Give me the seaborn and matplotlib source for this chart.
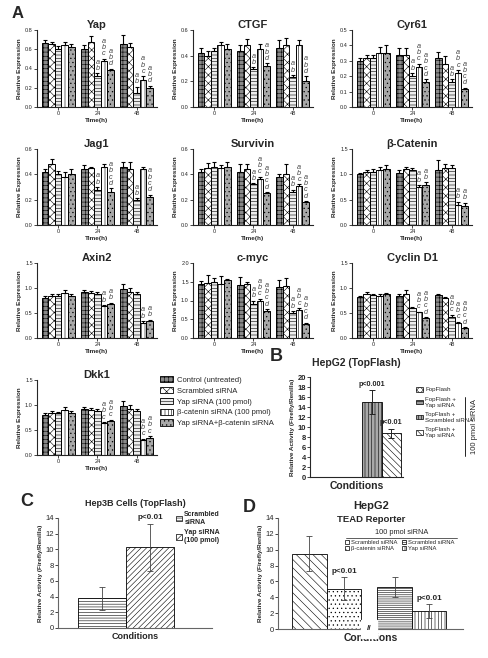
import matplotlib
matplotlib.use("Agg")
import matplotlib.pyplot as plt
from matplotlib.patches import Patch
from matplotlib.lines import Line2D
import numpy as np
import pandas as pd
import seaborn as sns

sns.set_style("ticks")
plt.rcParams["font.family"] = ["Liberation Sans", "DejaVu Sans"]
plt.rcParams["hatch.linewidth"] = 0.4
plt.rcParams["axes.linewidth"] = 0.8

W, H = 488, 658

# ---------------- Panel A data ----------------
times = ["0", "24", "48"]
conditions = ["Control (untreated)", "Scrambled siRNA", "Yap siRNA (100 pmol)",
              "β-catenin siRNA (100 pmol)", "Yap siRNA+β-catenin siRNA"]

yap_mean = [[0.66, 0.65, 0.60, 0.64, 0.62], [0.60, 0.68, 0.32, 0.48, 0.38], [0.65, 0.62, 0.15, 0.28, 0.20]]
yap_err = [[0.04, 0.03, 0.03, 0.04, 0.03], [0.04, 0.06, 0.03, 0.02, 0.02], [0.10, 0.04, 0.06, 0.04, 0.02]]
yap_notes = {(1, 2): "ab", (1, 3): "abc", (1, 4): "abd", (2, 2): "ab", (2, 3): "abc", (2, 4): "abd"}

ctgf_mean = [[0.42, 0.40, 0.44, 0.48, 0.45], [0.44, 0.48, 0.30, 0.45, 0.32], [0.46, 0.48, 0.23, 0.48, 0.20]]
ctgf_err = [[0.04, 0.04, 0.02, 0.03, 0.04], [0.04, 0.05, 0.01, 0.04, 0.02], [0.06, 0.06, 0.02, 0.04, 0.04]]
ctgf_notes = {(1, 2): "ab", (1, 4): "abd", (2, 2): "ab", (2, 4): "abd"}

cyr61_mean = [[0.30, 0.32, 0.32, 0.35, 0.35], [0.34, 0.34, 0.20, 0.26, 0.16], [0.32, 0.28, 0.16, 0.22, 0.12]]
cyr61_err = [[0.02, 0.02, 0.02, 0.04, 0.05], [0.04, 0.04, 0.02, 0.02, 0.02], [0.04, 0.05, 0.02, 0.02, 0.005]]
cyr61_notes = {(1, 2): "ab", (1, 3): "abc", (1, 4): "abcd", (2, 2): "ab", (2, 3): "abc", (2, 4): "abcd"}

jag1_mean = [[0.42, 0.48, 0.40, 0.38, 0.40], [0.44, 0.45, 0.28, 0.46, 0.26], [0.46, 0.44, 0.20, 0.44, 0.22]]
jag1_err = [[0.02, 0.04, 0.03, 0.04, 0.04], [0.03, 0.01, 0.02, 0.02, 0.03], [0.04, 0.06, 0.01, 0.02, 0.02]]
jag1_notes = {(1, 2): "ab", (1, 4): "abcd", (2, 2): "ab", (2, 4): "abcd"}

survivin_mean = [[0.42, 0.45, 0.46, 0.45, 0.46], [0.42, 0.44, 0.32, 0.36, 0.25], [0.38, 0.40, 0.26, 0.31, 0.18]]
survivin_err = [[0.02, 0.04, 0.04, 0.02, 0.04], [0.06, 0.04, 0.01, 0.02, 0.01], [0.02, 0.08, 0.02, 0.01, 0.01]]
survivin_notes = {(1, 2): "ab", (1, 3): "abc", (1, 4): "abcd", (2, 2): "ab", (2, 3): "abc", (2, 4): "abcd"}

bcat_mean = [[1.00, 1.05, 1.05, 1.08, 1.10], [1.03, 1.10, 1.08, 0.75, 0.78], [1.08, 1.12, 1.12, 0.40, 0.37]]
bcat_err = [[0.03, 0.04, 0.05, 0.06, 0.08], [0.05, 0.05, 0.04, 0.04, 0.06], [0.20, 0.08, 0.06, 0.06, 0.07]]
bcat_notes = {(1, 3): "ab", (1, 4): "ab", (2, 3): "ab", (2, 4): "ab"}

axin2_mean = [[0.80, 0.85, 0.85, 0.90, 0.84], [0.92, 0.90, 0.88, 0.64, 0.68], [0.98, 0.92, 0.88, 0.31, 0.35]]
axin2_err = [[0.05, 0.04, 0.03, 0.06, 0.04], [0.05, 0.05, 0.04, 0.02, 0.03], [0.10, 0.08, 0.05, 0.03, 0.02]]
axin2_notes = {(1, 3): "ab", (1, 4): "ab", (2, 3): "ab", (2, 4): "ab"}

cmyc_mean = [[1.43, 1.47, 1.50, 1.45, 1.55], [1.42, 1.43, 0.92, 1.00, 0.72], [1.35, 1.40, 0.66, 0.75, 0.37]]
cmyc_err = [[0.10, 0.22, 0.10, 0.20, 0.02], [0.20, 0.07, 0.07, 0.05, 0.05], [0.20, 0.20, 0.06, 0.05, 0.04]]
cmyc_notes = {(1, 2): "ab", (1, 3): "abc", (1, 4): "abcd", (2, 2): "ab", (2, 3): "abc", (2, 4): "abcd"}

cycd1_mean = [[0.82, 0.88, 0.87, 0.85, 0.88], [0.84, 0.88, 0.60, 0.52, 0.40], [0.86, 0.80, 0.43, 0.31, 0.20]]
cycd1_err = [[0.02, 0.05, 0.02, 0.03, 0.03], [0.04, 0.08, 0.02, 0.01, 0.02], [0.03, 0.03, 0.04, 0.02, 0.02]]
cycd1_notes = {(1, 3): "abc", (1, 4): "abcd", (2, 2): "abc", (2, 3): "abc", (2, 4): "abcd"}

dkk1_mean = [[0.80, 0.85, 0.84, 0.90, 0.84], [0.92, 0.90, 0.88, 0.64, 0.68], [0.98, 0.92, 0.88, 0.30, 0.35]]
dkk1_err = [[0.05, 0.04, 0.03, 0.06, 0.04], [0.05, 0.05, 0.04, 0.02, 0.03], [0.10, 0.08, 0.05, 0.03, 0.03]]
dkk1_notes = {(1, 3): "abc", (1, 4): "abc", (2, 3): "abc", (2, 4): "abc"}

gene_names = ["Yap", "CTGF", "Cyr61", "Jag1", "Survivin", "β-Catenin", "Axin2", "c-myc", "Cyclin D1", "Dkk1"]
gene_ymax = [0.8, 0.6, 0.5, 0.6, 0.6, 1.5, 1.5, 2.0, 1.5, 1.5]
gene_ystep = [0.2, 0.2, 0.1, 0.2, 0.2, 0.5, 0.5, 0.5, 0.5, 0.5]

# ---------------- Panel B data ----------------
b_conditions = ["FopFlash", "FopFlash +\nYap siRNA", "TopFlash +\nScrambled siRNA", "TopFlash +\nYap siRNA"]
b_values = [0.05, 0.05, 15.0, 8.8]
b_errors = [0.0, 0.0, 2.4, 0.9]
b_pvalues = ["", "", "p<0.001", "p<0.01"]

# ---------------- Panel C data ----------------
c_conditions = ["Scrambled\nsiRNA", "Yap siRNA\n(100 pmol)"]
c_values = [3.8, 10.3]
c_errors = [1.45, 3.0]
c_pvalues = ["", "p<0.01"]

# ---------------- Panel D data ----------------
d_sets = ["β-catenin set", "Yap set"]
d_roles = ["Scrambled", "Knockdown"]
d_labels = [["Scrambled siRNA", "β-catenin siRNA"], ["Scrambled siRNA", "Yap siRNA"]]
d_values = [[9.5, 5.1], [5.3, 2.3]]
d_errors = [[2.2, 1.5], [1.3, 0.9]]
d_pvalues = [["", "p<0.01"], ["", "p<0.01"]]

# ---------------- styles ----------------
a_faces = ["#8a8a8a", "#ffffff", "#ececec", "#ffffff", "#a8a8a8"]
a_hatches = ["++++", "xxxx", "-----", "|||||", "...."]
b_faces = ["#ffffff", "#9a9a9a", "#a8a8a8", "#ffffff"]
b_hatches = ["xxxxx", "-----", "|||||", "\\\\\\\\\\"]
c_hatches = ["------", "//////"]
d_hatches = [["\\\\\\\\", "...."], ["--------", "|||||"]]


def fig_rect(left, top, width, height):
    return [left / W, 1 - (top + height) / H, width / W, height / H]


fig = plt.figure(figsize=(W / 100, H / 100), dpi=100)

col_left = [37, 193, 352]
row_top = [30, 149, 263, 380]
row_h = [77, 76, 75, 75]

gene_data = {
    "Yap": (yap_mean, yap_err, yap_notes),
    "CTGF": (ctgf_mean, ctgf_err, ctgf_notes),
    "Cyr61": (cyr61_mean, cyr61_err, cyr61_notes),
    "Jag1": (jag1_mean, jag1_err, jag1_notes),
    "Survivin": (survivin_mean, survivin_err, survivin_notes),
    "β-Catenin": (bcat_mean, bcat_err, bcat_notes),
    "Axin2": (axin2_mean, axin2_err, axin2_notes),
    "c-myc": (cmyc_mean, cmyc_err, cmyc_notes),
    "Cyclin D1": (cycd1_mean, cycd1_err, cycd1_notes),
    "Dkk1": (dkk1_mean, dkk1_err, dkk1_notes),
}

for gi, name in enumerate(gene_names):
    r, c = divmod(gi, 3)
    ax = fig.add_axes(fig_rect(col_left[c], row_top[r], 120, row_h[r]))
    means, errs, notes = gene_data[name]
    rows = []
    for ti, t in enumerate(times):
        for hi, cond in enumerate(conditions):
            rows.append({"time": t, "cond": cond, "value": means[ti][hi]})
    df = pd.DataFrame(rows)
    sns.barplot(data=df, x="time", y="value", hue="cond", order=times, hue_order=conditions,
                palette=a_faces, saturation=1, edgecolor="black", linewidth=0.7,
                errorbar=None, width=0.84, legend=False, ax=ax)
    containers = list(ax.containers)
    for hi, cont in enumerate(containers):
        for ti, bar in enumerate(cont):
            bar.set_hatch(a_hatches[hi])
            x = bar.get_x() + bar.get_width() / 2
            h = bar.get_height()
            e = errs[ti][hi]
            ax.errorbar(x, h, yerr=[[0], [e]], fmt="none", ecolor="black",
                        elinewidth=0.8, capsize=1.4, capthick=0.8)
            if (ti, hi) in notes:
                ax.annotate("\n".join(notes[(ti, hi)]), (x, h + e), xytext=(0, 1),
                            textcoords="offset points", ha="center", va="bottom",
                            fontsize=5.2, style="italic", color="#444444", linespacing=0.85)
    ymax = gene_ymax[gi]
    ax.set_ylim(0, ymax)
    ticks = np.arange(0, ymax + 1e-9, gene_ystep[gi])
    ax.set_yticks(ticks)
    ax.set_yticklabels([f"{v:.1f}" for v in ticks])
    ax.set_xlim(-0.54, 2.52)
    ax.tick_params(axis="both", labelsize=4, length=2, width=0.6, pad=1)
    ax.set_ylabel("Relative Expression", fontsize=4.6, fontweight="bold", labelpad=2)
    ax.set_xlabel("Time(h)", fontsize=4.6, fontweight="bold", labelpad=1)
    ax.set_title(name, fontsize=8, fontweight="bold", pad=1)
    sns.despine(ax=ax)

fig.text(12 / W, 1 - 14 / H, "A", fontsize=12, fontweight="bold", va="center")

a_handles = [Patch(facecolor=a_faces[i], edgecolor="black", hatch=a_hatches[i], linewidth=0.6)
             for i in range(5)]
fig.legend(a_handles, conditions, loc="upper left", bbox_to_anchor=(160 / W, 1 - 376 / H),
           frameon=False, fontsize=5.5, handlelength=1.7, handleheight=0.9,
           labelspacing=0.4, handletextpad=0.5, borderaxespad=0, borderpad=0)

# ---------------- Panel B ----------------
axb = fig.add_axes(fig_rect(310, 377, 93, 100))
dfb = pd.DataFrame({"cond": b_conditions, "value": b_values})
sns.barplot(data=dfb, x="cond", y="value", hue="cond", palette=b_faces, saturation=1,
            edgecolor="black", linewidth=0.6, errorbar=None, width=1, legend=False, ax=axb)
containers = list(axb.containers)
for i, cont in enumerate(containers):
    for bar in cont:
        bar.set_hatch(b_hatches[i])
        x = bar.get_x() + bar.get_width() / 2
        if b_errors[i] > 0:
            axb.errorbar(x, bar.get_height(), yerr=b_errors[i], fmt="none", ecolor="#222222",
                         elinewidth=0.7, capsize=2, capthick=0.7)
        if b_pvalues[i]:
            axb.annotate(b_pvalues[i], (x, b_values[i] + b_errors[i]), xytext=(0, 1.5),
                         textcoords="offset points", ha="center", va="bottom",
                         fontsize=5.2, fontweight="bold")
axb.set_ylim(0, 20)
axb.set_yticks(range(0, 21, 2))
axb.set_xlim(-1.17, 3.6)
axb.set_xticks([])
axb.tick_params(axis="y", labelsize=5.5, length=2, width=0.6, pad=1)
for lab in axb.get_yticklabels():
    lab.set_fontweight("bold")
axb.set_ylabel("Relative Activity (Firefly/Renilla)", fontsize=4.6, fontweight="bold", labelpad=2)
axb.set_xlabel("Conditions", fontsize=7.5, fontweight="bold", labelpad=3)
axb.set_title("HepG2 (TopFlash)", fontsize=7.5, fontweight="bold", pad=8)
sns.despine(ax=axb)
fig.text(270 / W, 1 - 357 / H, "B", fontsize=13, fontweight="bold", va="center")

b_handles = [Patch(facecolor=b_faces[i], edgecolor="black", hatch=b_hatches[i], linewidth=0.5)
             for i in range(4)]
fig.legend(b_handles, b_conditions, loc="upper left", bbox_to_anchor=(416 / W, 1 - 387 / H),
           frameon=False, fontsize=4.4, handlelength=1.1, handleheight=0.8,
           labelspacing=0.7, handletextpad=0.4, borderaxespad=0, borderpad=0)
fig.add_artist(Line2D([465 / W, 465 / W], [1 - 397 / H, 1 - 456 / H], color="black", linewidth=0.6))
fig.text(474 / W, 1 - 427 / H, "100 pmol siRNA", rotation=90, fontsize=5.5,
         ha="center", va="center")

# ---------------- Panel C ----------------
axc = fig.add_axes(fig_rect(58, 518, 154, 110))
dfc = pd.DataFrame({"cond": c_conditions, "value": c_values})
sns.barplot(data=dfc, x="cond", y="value", hue="cond", palette=["white", "white"], saturation=1,
            edgecolor="black", linewidth=0.6, errorbar=None, width=1, legend=False, ax=axc)
containers = list(axc.containers)
for i, cont in enumerate(containers):
    for bar in cont:
        bar.set_hatch(c_hatches[i])
        x = bar.get_x() + bar.get_width() / 2
        axc.errorbar(x, bar.get_height(), yerr=c_errors[i], fmt="none", ecolor="#444444",
                     elinewidth=0.6, capsize=2, capthick=0.6)
        if c_pvalues[i]:
            axc.annotate(c_pvalues[i], (x, c_values[i] + c_errors[i]), xytext=(0, 1.5),
                         textcoords="offset points", ha="center", va="bottom",
                         fontsize=5.8, fontweight="bold")
axc.set_ylim(0, 14)
axc.set_yticks(range(0, 15, 2))
axc.set_xlim(-0.917, 2.29)
axc.set_xticks([])
axc.tick_params(axis="y", labelsize=5.5, length=2, width=0.6, pad=1)
axc.set_ylabel("Relative Activity (Firefly/Renilla)", fontsize=4.6, fontweight="bold", labelpad=2)
axc.set_xlabel("Conditions", fontsize=6.5, fontweight="bold", labelpad=3)
axc.set_title("Hep3B Cells (TopFlash)", fontsize=6.5, fontweight="bold", pad=9)
sns.despine(ax=axc)
axc.spines["left"].set_color("#666666")
axc.spines["bottom"].set_color("#666666")
fig.text(20 / W, 1 - 501 / H, "C", fontsize=13, fontweight="bold", va="center")

c_handles = [Patch(facecolor="white", edgecolor="black", hatch=c_hatches[i], linewidth=0.5)
             for i in range(2)]
legc = fig.legend(c_handles, c_conditions, loc="upper left", bbox_to_anchor=(176 / W, 1 - 511 / H),
                  frameon=False, fontsize=5, handlelength=0.8, handleheight=0.8,
                  labelspacing=0.5, handletextpad=0.4, borderaxespad=0, borderpad=0)
for t in legc.get_texts():
    t.set_fontweight("bold")

# ---------------- Panel D ----------------
axd = fig.add_axes(fig_rect(278, 518, 185, 111))
rows = []
for si, s in enumerate(d_sets):
    for ri, role in enumerate(d_roles):
        rows.append({"set": s, "role": role, "value": d_values[si][ri]})
dfd = pd.DataFrame(rows)
sns.barplot(data=dfd, x="set", y="value", hue="role", order=d_sets, hue_order=d_roles,
            palette=["white", "white"], saturation=1, edgecolor="black", linewidth=0.6,
            errorbar=None, width=0.81, legend=False, ax=axd)
containers = list(axd.containers)
for ri, cont in enumerate(containers):
    for si, bar in enumerate(cont):
        bar.set_hatch(d_hatches[si][ri])
        x = bar.get_x() + bar.get_width() / 2
        axd.errorbar(x, bar.get_height(), yerr=d_errors[si][ri], fmt="none", ecolor="#444444",
                     elinewidth=0.6, capsize=2, capthick=0.6)
        if d_pvalues[si][ri]:
            axd.annotate(d_pvalues[si][ri], (x, d_values[si][ri] + d_errors[si][ri]),
                         xytext=(0, 1.5), textcoords="offset points", ha="center",
                         va="bottom", fontsize=5.8, fontweight="bold")
axd.set_ylim(0, 14)
axd.set_yticks(range(0, 15, 2))
axd.set_xlim(-0.57, 1.6)
axd.set_xticks([])
axd.tick_params(axis="y", labelsize=5.5, length=2, width=0.6, pad=1)
axd.set_ylabel("Relative Activity (Firefly/Renilla)", fontsize=4.6, fontweight="bold", labelpad=2)
axd.set_xlabel("Conditions", fontsize=7.5, fontweight="bold", labelpad=3)
sns.despine(ax=axd)
axd.spines["left"].set_color("#666666")
axd.spines["bottom"].set_color("#666666")
axd.text(0.5, 0, "//", transform=axd.get_xaxis_transform(), ha="center", va="center",
         fontsize=6, fontweight="bold", backgroundcolor="white")
fig.text(243 / W, 1 - 508 / H, "D", fontsize=13, fontweight="bold", va="center")
fig.text(371 / W, 1 - 506 / H, "HepG2", fontsize=8, fontweight="bold", ha="center", va="center")
fig.text(371 / W, 1 - 519 / H, "TEAD Reporter", fontsize=6.8, fontweight="bold", ha="center", va="center")
fig.text(402 / W, 1 - 532 / H, "100 pmol siRNA", fontsize=5.3, ha="center", va="center")
fig.add_artist(Line2D([346 / W, 457 / W], [1 - 537.5 / H, 1 - 537.5 / H], color="#444444", linewidth=0.6))

d_handles = [Patch(facecolor="white", edgecolor="black", hatch=d_hatches[si][ri], linewidth=0.5)
             for si in range(2) for ri in range(2)]
legd = fig.legend([d_handles[0], d_handles[1], d_handles[2], d_handles[3]],
                  [d_labels[0][0], d_labels[0][1], d_labels[1][0], d_labels[1][1]],
                  loc="upper left", bbox_to_anchor=(345 / W, 1 - 539.5 / H), ncol=2,
                  frameon=False, fontsize=4.2, handlelength=0.7, handleheight=0.7,
                  labelspacing=0.3, handletextpad=0.3, columnspacing=0.8,
                  borderaxespad=0, borderpad=0)

fig.savefig("out.png", dpi=100)
